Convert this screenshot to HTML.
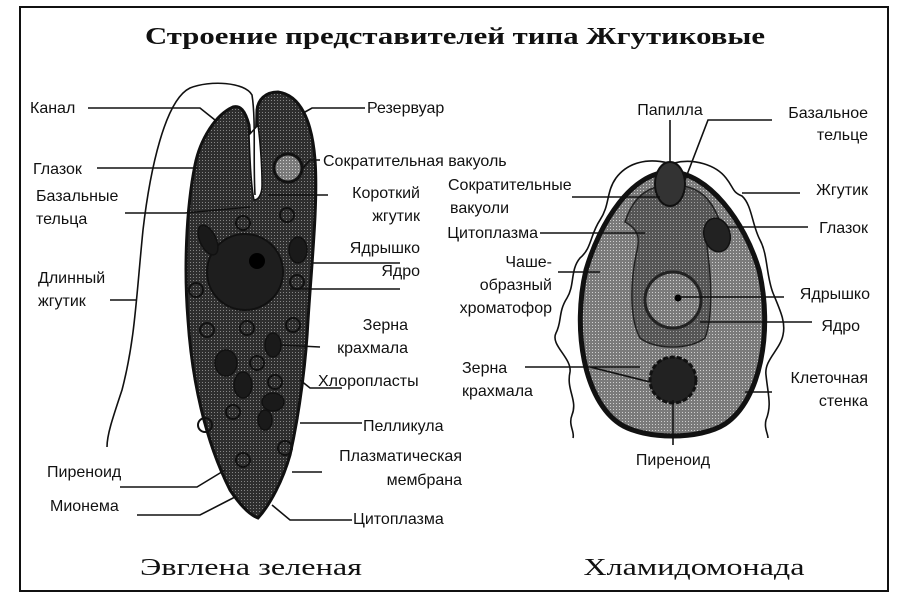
<!DOCTYPE html>
<html><head><meta charset="utf-8"><style>
html,body{margin:0;padding:0;background:#fff;}
svg{display:block}
.t{font-family:"Liberation Sans","DejaVu Sans",sans-serif;font-size:16px;fill:#111}
.s{font-family:"Liberation Serif","DejaVu Serif",serif;fill:#111}
.l{stroke:#111;stroke-width:1.6;fill:none}
</style></head><body>
<svg width="910" height="609" viewBox="0 0 910 609" xmlns="http://www.w3.org/2000/svg">
<defs>
<pattern id="dk" width="3" height="3" patternUnits="userSpaceOnUse">
<rect width="3" height="3" fill="#2e2e2e"/><rect x="1" y="1" width="1" height="1" fill="#858585"/>
</pattern>
<pattern id="lt" width="3" height="3" patternUnits="userSpaceOnUse">
<rect width="3" height="3" fill="#7a7a7a"/><rect x="1" y="1" width="1" height="1" fill="#cfcfcf"/>
</pattern>
<pattern id="md" width="3" height="3" patternUnits="userSpaceOnUse">
<rect width="3" height="3" fill="#555"/><rect x="1" y="1" width="1" height="1" fill="#a0a0a0"/>
</pattern>
</defs>
<rect x="20" y="7" width="868" height="584" fill="none" stroke="#111" stroke-width="2"/>
<text class="s" x="455" y="44" text-anchor="middle" font-size="24" font-weight="bold" textLength="620" lengthAdjust="spacingAndGlyphs">Строение представителей типа Жгутиковые</text>
<text class="s" x="251" y="575" text-anchor="middle" font-size="24" textLength="222" lengthAdjust="spacingAndGlyphs">Эвглена зеленая</text>
<text class="s" x="694" y="575" text-anchor="middle" font-size="24" textLength="221" lengthAdjust="spacingAndGlyphs">Хламидомонада</text>

<!-- Euglena -->
<path d="M233,107 C215,115 200,140 195,165 C186,210 184,270 188,320 C192,380 205,440 230,490 C240,505 250,515 258,518 C270,505 283,480 290,455 C300,410 306,360 308,320 C312,260 318,200 315,160 C312,120 300,95 278,92 C265,92 258,100 257,110 L256,150 L251,150 L249,125 C245,110 240,105 233,107 Z" fill="url(#dk)" stroke="#111" stroke-width="3"/>
<path d="M249,135 C250,160 251,185 254,200 C258,200 262,195 262,185 C262,165 260,140 258,125 Z" fill="#fff" stroke="#111" stroke-width="1.5"/>
<path d="M255,195 C253,160 256,120 252,95 C245,82 210,80 190,88 C165,100 150,170 143,230 C136,300 135,340 122,390 C112,420 107,435 107,447" class="l" stroke-width="2.5"/>
<circle cx="288" cy="168" r="14" fill="url(#lt)" stroke="#111" stroke-width="3"/>
<circle cx="245" cy="272" r="38" fill="#1e1e1e" stroke="#111" stroke-width="2"/>
<circle cx="257" cy="261" r="8" fill="#000"/>
<g fill="#1a1a1a" stroke="#111" stroke-width="1.5">
<ellipse cx="208" cy="240" rx="8" ry="16" transform="rotate(-25 208 240)"/>
<ellipse cx="298" cy="250" rx="9" ry="13"/>
<ellipse cx="273" cy="345" rx="8" ry="12"/>
<ellipse cx="226" cy="363" rx="11" ry="13"/>
<ellipse cx="243" cy="385" rx="9" ry="13"/>
<ellipse cx="273" cy="402" rx="11" ry="9"/>
<ellipse cx="265" cy="420" rx="7" ry="10"/>
</g>
<g fill="none" stroke="#111" stroke-width="2">
<circle cx="243" cy="223" r="7"/><circle cx="287" cy="215" r="7"/><circle cx="196" cy="290" r="7"/>
<circle cx="297" cy="282" r="7"/><circle cx="207" cy="330" r="7"/><circle cx="247" cy="328" r="7"/>
<circle cx="293" cy="325" r="7"/><circle cx="257" cy="363" r="7"/><circle cx="275" cy="382" r="7"/>
<circle cx="233" cy="412" r="7"/><circle cx="285" cy="448" r="7"/><circle cx="243" cy="460" r="7"/>
<circle cx="205" cy="425" r="7"/>
</g>

<g class="t">
<text x="30" y="113">Канал</text>
<text x="33" y="174">Глазок</text>
<text x="36" y="201">Базальные</text>
<text x="36" y="224">тельца</text>
<text x="38" y="283">Длинный</text>
<text x="38" y="306">жгутик</text>
<text x="47" y="477">Пиреноид</text>
<text x="50" y="511">Мионема</text>
<text x="367" y="113">Резервуар</text>
<text x="323" y="166">Сократительная вакуоль</text>
<text x="420" y="198" text-anchor="end">Короткий</text>
<text x="420" y="221" text-anchor="end">жгутик</text>
<text x="420" y="253" text-anchor="end">Ядрышко</text>
<text x="420" y="276" text-anchor="end">Ядро</text>
<text x="408" y="330" text-anchor="end">Зерна</text>
<text x="408" y="353" text-anchor="end">крахмала</text>
<text x="318" y="386">Хлоропласты</text>
<text x="363" y="431">Пелликула</text>
<text x="462" y="461" text-anchor="end">Плазматическая</text>
<text x="462" y="485" text-anchor="end">мембрана</text>
<text x="353" y="524">Цитоплазма</text>
</g>
<g class="l">
<path d="M88,108 H200 L215,120"/>
<path d="M97,168 H198"/>
<path d="M125,213 H185 L250,207"/>
<path d="M110,300 H137"/>
<path d="M120,487 H197 L225,470"/>
<path d="M137,515 H200 L235,497"/>
<path d="M305,112 L312,108 H365"/>
<path d="M303,168 L310,160 H320"/>
<path d="M268,195 H328"/>
<path d="M313,263 H400"/>
<path d="M290,289 H400"/>
<path d="M280,345 L320,347"/>
<path d="M300,380 L310,388 H342"/>
<path d="M300,423 H362"/>
<path d="M292,472 H322"/>
<path d="M272,505 L290,520 H352"/>
</g>

<!-- Chlamydomonas -->
<path d="M668,163 C648,158 628,162 616,178 C606,192 610,205 600,220 C590,235 592,248 580,258 C570,270 575,285 567,298 C558,312 562,322 556,333 C550,345 572,358 570,372 C566,390 578,400 572,415 C568,425 575,432 573,438" class="l" stroke-width="2.5"/>
<path d="M674,163 C694,158 716,165 726,178 C734,188 732,192 742,196 C752,205 752,225 760,240 C768,255 766,275 773,293 C780,310 786,322 783,335 C780,350 764,360 766,375 C768,395 772,405 766,420 C764,428 768,434 768,438" class="l" stroke-width="2.5"/>
<path d="M670,172 C632,172 600,222 586,270 C572,330 584,400 620,424 C645,440 700,440 725,424 C761,400 773,330 759,270 C745,222 708,172 670,172 Z" fill="url(#lt)" stroke="#111" stroke-width="5"/>
<path d="M625,222 C640,230 640,240 636,255 C630,285 630,320 640,338 C655,350 690,350 705,338 C712,320 712,285 708,255 C705,235 708,226 720,222 C712,200 700,185 672,185 C645,185 632,200 625,222 Z" fill="url(#md)" stroke="#222" stroke-width="1.5"/>
<ellipse cx="670" cy="184" rx="15" ry="22" fill="#333" stroke="#111" stroke-width="2"/>
<ellipse cx="717" cy="235" rx="13" ry="17" fill="#222" stroke="#111" stroke-width="1.5" transform="rotate(-15 717 235)"/>
<circle cx="673" cy="300" r="28" fill="url(#lt)" stroke="#222" stroke-width="3"/>
<circle cx="678" cy="298" r="3.5" fill="#000"/>
<circle cx="673" cy="380" r="23" fill="#222" stroke="#111" stroke-width="3" stroke-dasharray="5 2"/>

<g class="t">
<text x="670" y="115" text-anchor="middle">Папилла</text>
<text x="868" y="118" text-anchor="end">Базальное</text>
<text x="868" y="140" text-anchor="end">тельце</text>
<text x="448" y="190">Сократительные</text>
<text x="450" y="213">вакуоли</text>
<text x="538" y="238" text-anchor="end">Цитоплазма</text>
<text x="552" y="267" text-anchor="end">Чаше-</text>
<text x="552" y="290" text-anchor="end">образный</text>
<text x="552" y="313" text-anchor="end">хроматофор</text>
<text x="868" y="195" text-anchor="end">Жгутик</text>
<text x="868" y="233" text-anchor="end">Глазок</text>
<text x="870" y="299" text-anchor="end">Ядрышко</text>
<text x="860" y="331" text-anchor="end">Ядро</text>
<text x="462" y="373">Зерна</text>
<text x="462" y="396">крахмала</text>
<text x="868" y="383" text-anchor="end">Клеточная</text>
<text x="868" y="406" text-anchor="end">стенка</text>
<text x="673" y="465" text-anchor="middle">Пиреноид</text>
</g>
<g class="l">
<path d="M670,120 V163"/>
<path d="M685,180 L708,120 H772"/>
<path d="M572,197 H660"/>
<path d="M540,233 H645"/>
<path d="M558,272 H600"/>
<path d="M742,193 H800"/>
<path d="M728,227 H808"/>
<path d="M680,297 H784"/>
<path d="M700,322 H812"/>
<path d="M525,367 H640 M590,367 L650,382"/>
<path d="M745,392 H772"/>
<path d="M673,400 V445"/>
</g>
</svg>
</body></html>
